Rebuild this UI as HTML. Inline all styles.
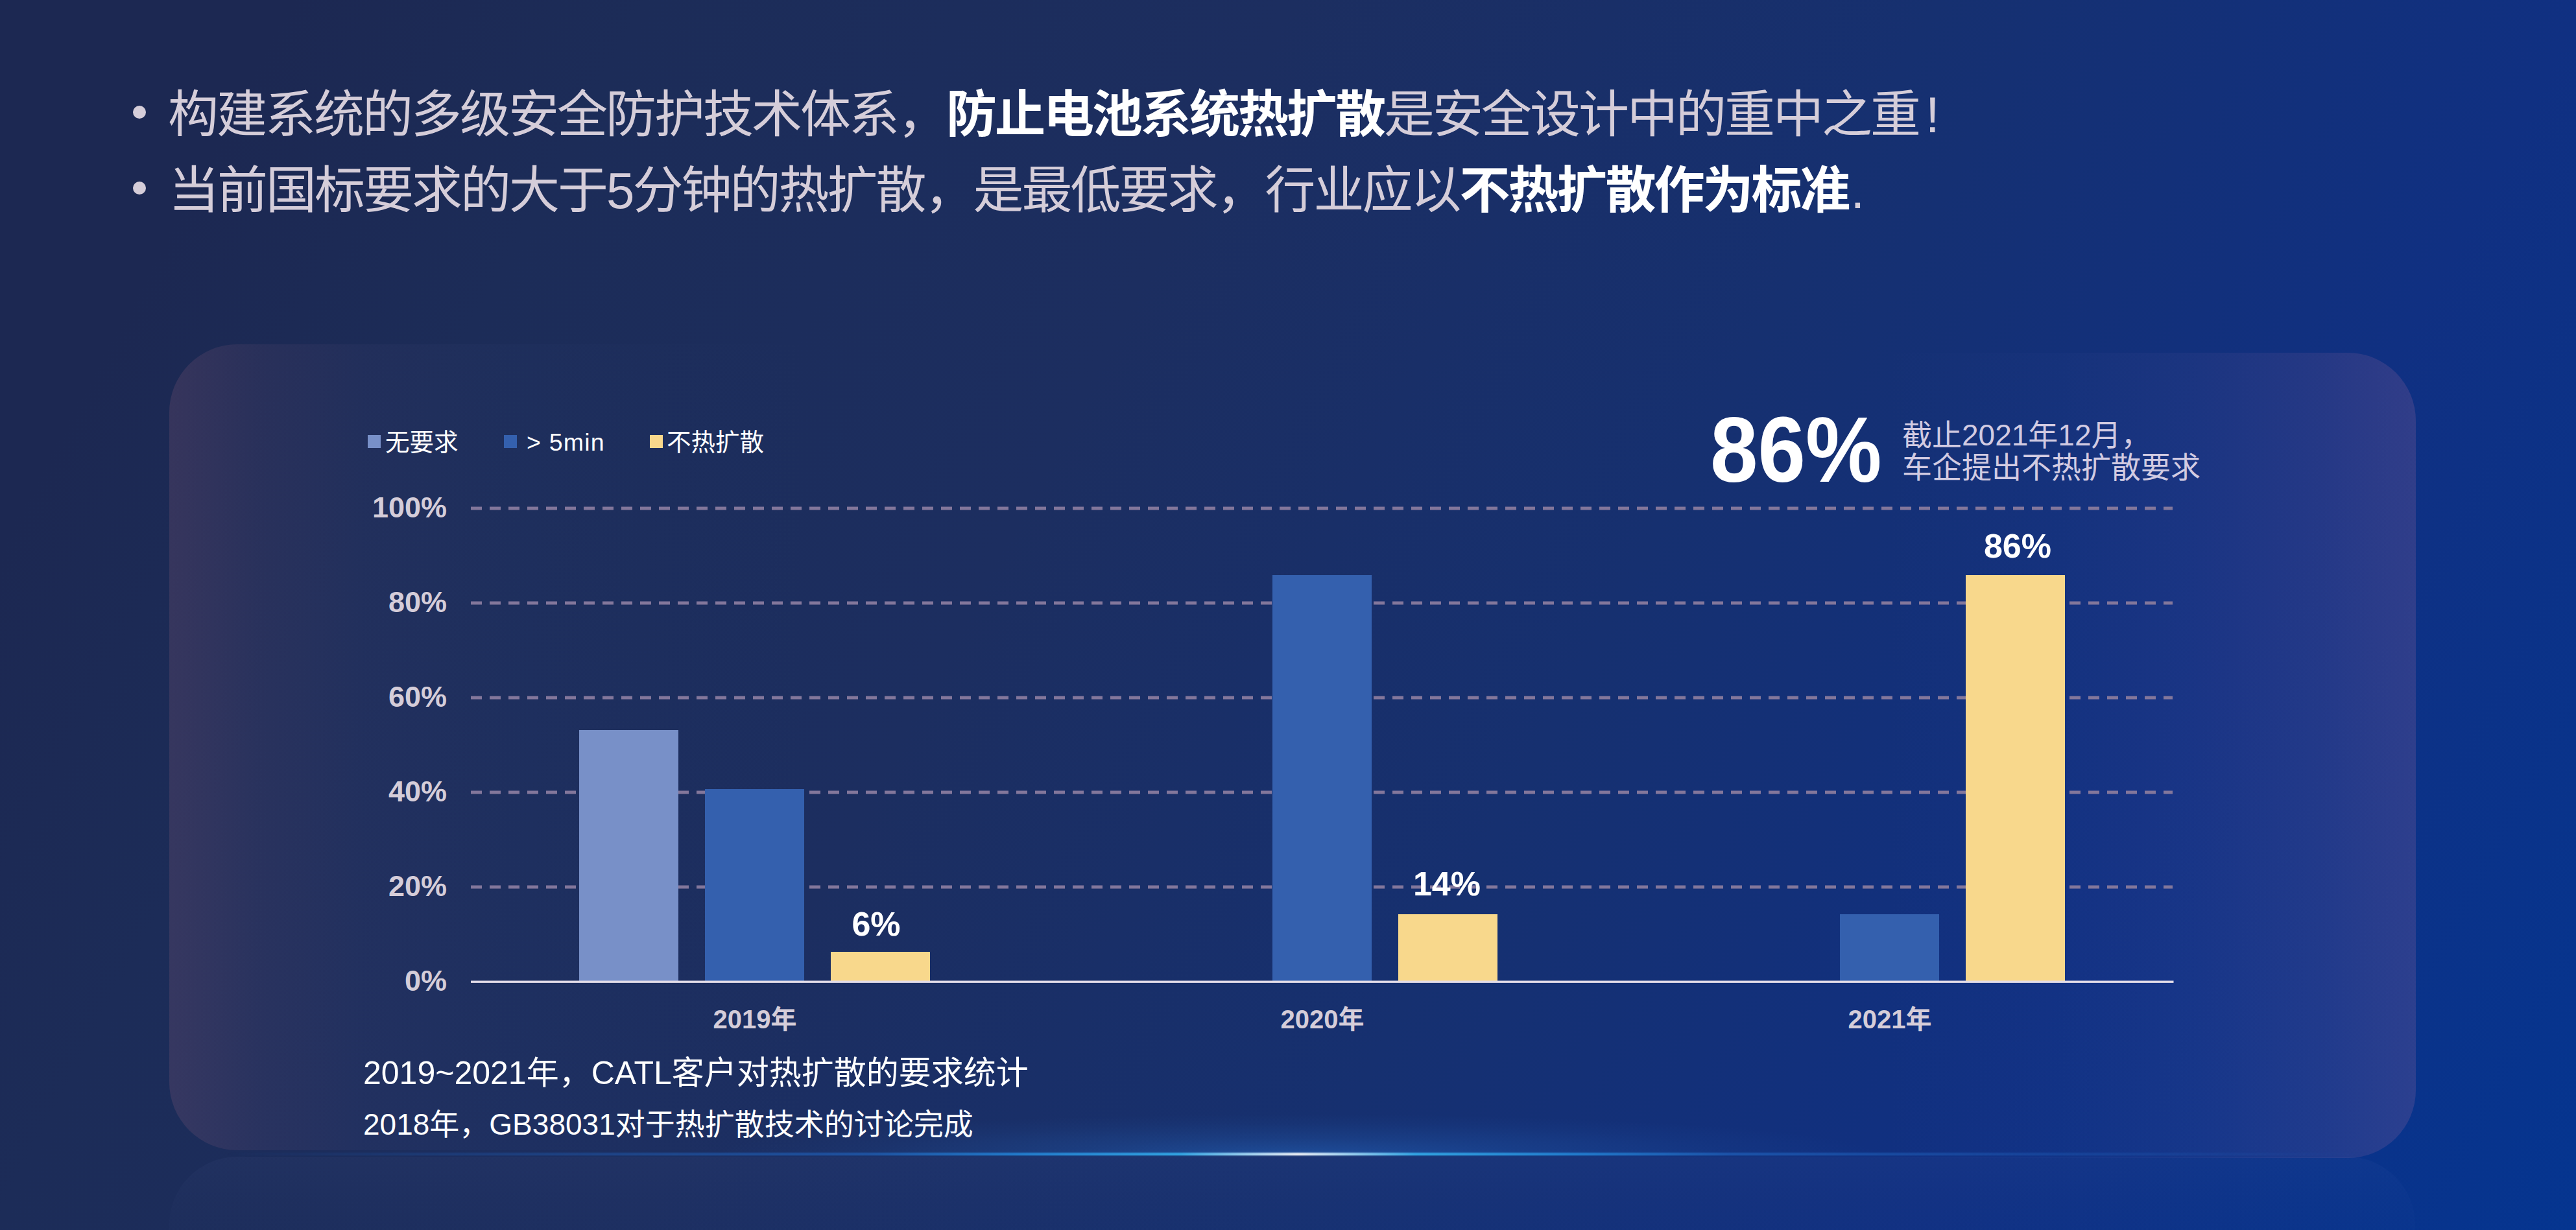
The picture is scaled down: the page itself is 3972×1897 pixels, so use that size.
<!DOCTYPE html>
<html lang="zh-CN">
<head>
<meta charset="utf-8">
<title>热扩散安全设计</title>
<style>
html,body{margin:0;padding:0;}
body{width:3972px;height:1897px;overflow:hidden;position:relative;
  font-family:"Liberation Sans","Noto Sans CJK SC",sans-serif;
  background:#1c2852;}
#bg{position:absolute;left:0;top:0;width:3972px;height:1897px;
  background:linear-gradient(118deg,#1c2852 0%,#1c2852 9%,#1c2c58 20%,#1c2e60 40%,#163070 60%,#103082 80%,#053590 100%);}
.abs{position:absolute;white-space:nowrap;}
.t{position:absolute;white-space:nowrap;left:260px;font-size:78px;letter-spacing:-3px;line-height:118px;color:#d5cdd9;font-weight:400;
  font-family:"Liberation Sans","Noto Sans CJK SC",sans-serif;}
.t b{font-weight:700;color:#fff;}
.dot{position:absolute;width:20px;height:20px;border-radius:50%;background:#d5cdd9;}
#cardL{position:absolute;left:261px;top:531px;width:1500px;height:1243px;border-radius:105px 0 0 105px;
  background:linear-gradient(90deg,rgba(215,125,145,0.14) 0%,rgba(200,125,155,0.08) 9%,rgba(160,130,190,0.045) 20%,rgba(120,140,220,0.022) 35%,rgba(120,140,220,0.008) 52%,rgba(120,140,220,0) 70%);}
#cardR{position:absolute;left:2500px;top:544px;width:1225px;height:1242px;border-radius:0 105px 105px 0;
  background:linear-gradient(270deg,rgba(215,125,165,0.17) 0%,rgba(205,125,170,0.11) 12%,rgba(180,130,190,0.06) 28%,rgba(140,140,220,0.022) 45%,rgba(120,140,220,0) 68%);}
.yl{position:absolute;width:160px;left:529px;text-align:right;font-weight:700;font-size:45px;line-height:50px;color:#d5cdd9;}
.xl{position:absolute;width:300px;text-align:center;font-weight:700;font-size:40px;line-height:44px;color:#d5cdd9;}
.dl{position:absolute;width:300px;text-align:center;font-weight:700;font-size:52px;line-height:56px;color:#fff;}
.lg{position:absolute;font-size:37.5px;line-height:44px;color:#fff;white-space:nowrap;}
.sw{position:absolute;width:19.5px;height:19.5px;top:671.25px;}
</style>
</head>
<body>
<div id="bg"></div>

<div class="dot" style="left:205px;top:163px"></div>
<div class="dot" style="left:205px;top:280px"></div>
<div class="t" style="top:118px;left:259px">构建系统的多级安全防护技术体系，<b>防止电池系统热扩散</b>是安全设计中的重中之重<span style="margin-left:10px">!</span></div>
<div class="t" style="top:235px;left:260px">当前国标要求的大于5分钟的热扩散，是最低要求，行业应以<b>不热扩散作为标准</b><span style="margin-left:3px">.</span></div>

<div id="cardL"></div>
<div id="cardR"></div>

<svg class="abs" style="left:0;top:0" width="3972" height="1897" viewBox="0 0 3972 1897">
  <g stroke="#83779b" stroke-width="5" stroke-dasharray="17 12" fill="none">
    <line x1="726" y1="784" x2="3350" y2="784"/>
    <line x1="726" y1="930" x2="3350" y2="930"/>
    <line x1="726" y1="1076" x2="3350" y2="1076"/>
    <line x1="726" y1="1222" x2="3350" y2="1222"/>
    <line x1="726" y1="1368" x2="3350" y2="1368"/>
  </g>
  <g>
    <rect x="893" y="1126" width="153" height="388" fill="#7890c8"/>
    <rect x="1087" y="1217" width="153" height="297" fill="#3460ae"/>
    <rect x="1281" y="1468" width="153" height="46" fill="#f8d88c"/>
    <rect x="1962" y="887" width="153" height="627" fill="#3460ae"/>
    <rect x="2156" y="1410" width="153" height="104" fill="#f8d88c"/>
    <rect x="2837" y="1410" width="153" height="104" fill="#3460ae"/>
    <rect x="3031" y="887" width="153" height="627" fill="#f8d88c"/>
  </g>
  <rect x="726" y="1512.5" width="2625.5" height="3.4" fill="#e2dce8"/>
</svg>

<div class="sw" style="left:567px;background:#7890c8"></div>
<div class="lg" style="left:594px;top:660px">无要求</div>
<div class="sw" style="left:777px;background:#3460ae"></div>
<div class="lg" style="left:812px;top:660px;letter-spacing:1.2px">&gt; 5min</div>
<div class="sw" style="left:1002px;background:#f8d88c"></div>
<div class="lg" style="left:1028px;top:660px">不热扩散</div>

<div class="yl" style="top:758px">100%</div>
<div class="yl" style="top:904px">80%</div>
<div class="yl" style="top:1050px">60%</div>
<div class="yl" style="top:1196px">40%</div>
<div class="yl" style="top:1342px">20%</div>
<div class="yl" style="top:1488px">0%</div>

<div class="xl" style="left:1014px;top:1550px">2019年</div>
<div class="xl" style="left:1889px;top:1550px">2020年</div>
<div class="xl" style="left:2764px;top:1550px">2021年</div>

<div class="dl" style="left:1201px;top:1397px">6%</div>
<div class="dl" style="left:2081px;top:1335px">14%</div>
<div class="dl" style="left:2961px;top:814px">86%</div>

<div class="abs" style="left:2637px;top:614.5px;font-size:143.7px;line-height:156px;font-weight:700;color:#fff;transform:scaleX(0.92);transform-origin:0 0">86%</div>
<div class="abs" style="left:2933px;top:646px;font-size:46px;line-height:50px;color:#d2cbe2">截止2021年12月，<br>车企提出不热扩散要求</div>

<div class="abs" style="left:560px;top:1625px;font-size:50px;line-height:60px;color:#fff">2019~2021年，CATL客户对热扩散的要求统计</div>
<div class="abs" style="left:560px;top:1706px;font-size:46px;line-height:56px;color:#fff">2018年，GB38031对于热扩散技术的讨论完成</div>

<div class="abs" id="refl" style="left:261px;top:1784px;width:3463px;height:113px;border-radius:105px 105px 0 0;
  background:linear-gradient(180deg,rgba(150,160,230,0.04) 0%,rgba(150,160,230,0.02) 60%,rgba(150,160,230,0.01) 100%)"></div>
<div class="abs" id="glow" style="left:0;top:1690px;width:3972px;height:90px;
  background:radial-gradient(ellipse 900px 62px at 2001px 90px,rgba(45,130,230,0.34) 0%,rgba(45,130,230,0.16) 40%,rgba(45,130,230,0.05) 75%,rgba(45,130,230,0) 100%)"></div>
<div class="abs" id="line" style="left:350px;top:1778px;width:3302px;height:4px;filter:blur(0.8px);
  background:linear-gradient(90deg,rgba(30,90,180,0) 0%,rgba(32,96,185,0.30) 10%,rgba(34,104,196,0.70) 30%,#2484d6 37%,#35b0ee 44.5%,#c8ecff 48.4%,#ffffff 50%,#c8ecff 51.6%,#35b0ee 55.5%,#2484d6 63%,rgba(34,104,196,0.70) 70%,rgba(32,96,185,0.30) 90%,rgba(30,90,180,0) 100%)"></div>
</body>
</html>
